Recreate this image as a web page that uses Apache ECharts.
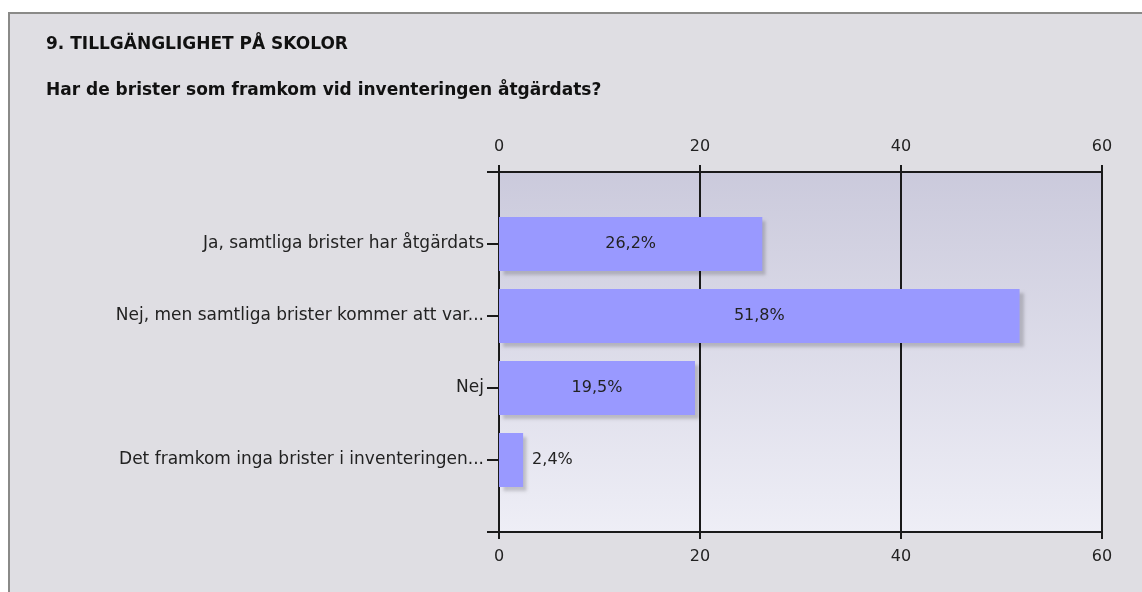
<!DOCTYPE html>
<html>
<head>
<meta charset="utf-8">
<script src="https://cdn.jsdelivr.net/npm/echarts@6/dist/echarts.min.js"></script>
<style>
html,body{margin:0;padding:0;background:#ffffff;}
#chart{width:1142px;height:592px;}
</style>
</head>
<body>
<div id="chart"></div>
<script>
var titleText = '9. TILLGÄNGLIGHET PÅ SKOLOR';
var subtitleText = 'Har de brister som framkom vid inventeringen åtgärdats?';
var categories = [
  'Ja, samtliga brister har åtgärdats',
  'Nej, men samtliga brister kommer att var...',
  'Nej',
  'Det framkom inga brister i inventeringen...'
];
var values = [26.2, 51.8, 19.5, 2.4];
var xTicks = [0, 20, 40, 60];

var FONT = 'DejaVu Sans';
// pad the category axis with empty slots at both ends (bars sit one slot in)
var axisCats = [''].concat(categories).concat(['']);
var seriesData = [null].concat(values.map(function (v) {
  return {
    value: v,
    label: { position: v < 8 ? 'right' : 'inside', distance: 9 }
  };
})).concat([null]);

var chart = echarts.init(document.getElementById('chart'));
var xAxisCommon = {
  type: 'value',
  min: xTicks[0],
  max: xTicks[xTicks.length - 1],
  interval: xTicks[1] - xTicks[0],
  axisLine: { show: true, lineStyle: { color: '#1a1a1a', width: 2 } },
  axisTick: { show: true, length: 7, lineStyle: { color: '#1a1a1a', width: 2 } },
  axisLabel: { color: '#222', fontFamily: FONT, fontSize: 16, margin: 17 }
};
chart.setOption({
  backgroundColor: '#ffffff',
  animation: false,
  graphic: [{
    type: 'rect',
    shape: { x: 9, y: 13, width: 1200, height: 700 },
    style: { fill: '#dfdee3', stroke: '#8a8a88', lineWidth: 2 },
    z: -10
  }],
  title: [{
    text: titleText,
    left: 46, top: 36, padding: 0,
    textStyle: { fontFamily: FONT, fontSize: 17, fontWeight: 'bold', color: '#111' }
  }, {
    text: subtitleText,
    left: 46, top: 82, padding: 0,
    textStyle: { fontFamily: FONT, fontSize: 17, fontWeight: 'bold', color: '#111' }
  }],
  grid: {
    left: 499, right: 40, top: 172, bottom: 60,
    show: true,
    borderWidth: 0,
    backgroundColor: new echarts.graphic.LinearGradient(0, 0, 0, 1, [
      { offset: 0, color: '#cbcadc' },
      { offset: 1, color: '#eeeef6' }
    ])
  },
  xAxis: [
    Object.assign({}, xAxisCommon, {
      position: 'top',
      splitLine: { show: true, lineStyle: { color: '#1a1a1a', width: 2 } }
    }),
    Object.assign({}, xAxisCommon, {
      position: 'bottom',
      splitLine: { show: false },
      axisLabel: { color: '#222', fontFamily: FONT, fontSize: 16, margin: 17 }
    })
  ],
  yAxis: {
    type: 'category',
    inverse: true,
    boundaryGap: false,
    data: axisCats,
    axisLine: { show: true, lineStyle: { color: '#1a1a1a', width: 2 } },
    axisTick: { show: true, length: 12, alignWithLabel: true, lineStyle: { color: '#1a1a1a', width: 2 } },
    axisLabel: { color: '#222', fontFamily: FONT, fontSize: 17, margin: 15, interval: 0 },
    splitLine: { show: false }
  },
  series: [{
    type: 'bar',
    xAxisIndex: 0,
    data: seriesData,
    barWidth: 54,
    itemStyle: {
      color: '#9999ff',
      shadowColor: 'rgba(0,0,0,0.18)',
      shadowOffsetX: 4,
      shadowOffsetY: 4,
      shadowBlur: 3
    },
    label: {
      show: true,
      color: '#222',
      fontFamily: FONT,
      fontSize: 16,
      formatter: function (p) { return String(p.value).replace('.', ',') + '%'; }
    }
  }]
});
</script>
</body>
</html>
